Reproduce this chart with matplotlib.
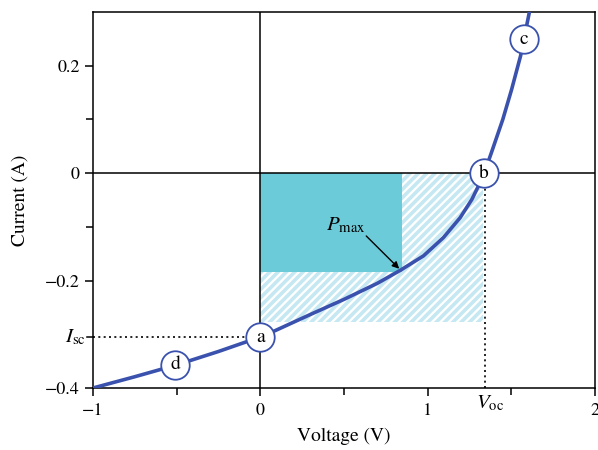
import matplotlib
matplotlib.use("Agg")
import matplotlib.pyplot as plt
from matplotlib.patches import Rectangle

plt.rcParams['font.family'] = ['STIXGeneral', 'DejaVu Serif']
plt.rcParams['mathtext.fontset'] = 'stix'
plt.rcParams['hatch.linewidth'] = 2.6

# I-V curve data
voltage = [-1.0, -0.75, -0.5, -0.25, 0.0, 0.09, 0.30, 0.50, 0.70, 0.836, 0.975, 1.094, 1.194,
           1.264, 1.297, 1.338, 1.383, 1.449, 1.501, 1.555, 1.608]
current = [-0.400, -0.379, -0.357, -0.332, -0.305, -0.293, -0.263, -0.235, -0.205, -0.181, -0.154,
           -0.120, -0.083, -0.049, -0.028, 0.0, 0.040, 0.100, 0.155, 0.218, 0.300]

# labelled points
pt_labels = ['a', 'b', 'c', 'd']
pt_v = [0.0, 1.338, 1.575, -0.51]
pt_i = [-0.305, 0.0, 0.249, -0.357]

isc = -0.305
voc = 1.342
pmax_v = 0.845
pmax_i = -0.184
hatch_i = -0.278

xticks = [-1, 0, 1, 2]
xticklabels = ['\u22121', '0', '1', '2']
yticks = [-0.4, -0.2, 0, 0.2]
yticklabels = ['\u22120.4', '\u22120.2', '0', '0.2']

blue = '#3a52ad'
fig = plt.figure(figsize=(5.98, 4.5), dpi=100)
ax = fig.add_axes([93/598, 62/450, (595-93)/598, (388-12)/450])
ax.set_xlim(-1, 2)
ax.set_ylim(-0.4, 0.3)

# hatched rectangle (Isc x Voc region)
ax.add_patch(Rectangle((0, hatch_i), voc - 0.01, -hatch_i, facecolor='white',
                       edgecolor='#c6e8f2', hatch='////', linewidth=0, zorder=1))
# Pmax rectangle
ax.add_patch(Rectangle((0, pmax_i), pmax_v, -pmax_i, facecolor='#6ccbd9',
                       edgecolor='none', zorder=2))

# crosshair axes
ax.axhline(0, color='black', lw=1.1, zorder=3)
ax.axvline(0, color='black', lw=1.1, zorder=3)

# dotted guide lines
ax.plot([-1, 0], [isc, isc], color='black', ls=(0, (1.2, 2)), lw=1.2, zorder=3)
ax.plot([voc, voc], [-0.4, 0], color='black', ls=(0, (1.2, 2)), lw=1.2, zorder=3)

# curve
ax.plot(voltage, current, color=blue, lw=2.6, zorder=4, solid_joinstyle='round')

# circles with labels
for lab, v, i in zip(pt_labels, pt_v, pt_i):
    ax.plot(v, i, 'o', ms=20.5, mfc='white', mec=blue, mew=1.3, zorder=5)
    ax.text(v, i, lab, ha='center', va='center', fontsize=14, zorder=6)

# Pmax annotation
ax.annotate('', xy=(0.83, -0.178), xytext=(0.633, -0.117),
            arrowprops=dict(arrowstyle='-|>', color='black', lw=1.0,
                            shrinkA=0, shrinkB=0, mutation_scale=10),
            zorder=6)
ax.text(0.51, -0.097, r'$P_{\rm max}$', fontsize=15, ha='center', va='center', zorder=6)

ax.set_xticks(xticks)
ax.set_xticklabels(xticklabels)
ax.set_yticks(yticks)
ax.set_yticklabels(yticklabels)
ax.set_xticks([-0.5, 0.5, 1.5], minor=True)
ax.set_yticks([-0.1, 0.1], minor=True)
ax.tick_params(axis='both', which='major', length=6, width=1.1, labelsize=13, direction='out')
ax.tick_params(axis='both', which='minor', length=5, width=1.1, direction='out')
ax.tick_params(axis='x', pad=5)
for s in ax.spines.values():
    s.set_linewidth(1.1)

# Isc and Voc labels
ax.text(-1.04, isc, r'$I_{\rm sc}$', ha='right', va='center', fontsize=15)
ax.plot([-1.0, -1.0 - 6/167.5], [isc, isc], color='black', lw=1.1, clip_on=False)
ax.text(voc + 0.03, -0.410, r'$V_{\rm oc}$', ha='center', va='top', fontsize=15)

ax.set_xlabel('Voltage (V)', fontsize=14, labelpad=6)
ax.set_ylabel('Current (A)', fontsize=14, labelpad=12)

fig.savefig('out.png', dpi=100)
